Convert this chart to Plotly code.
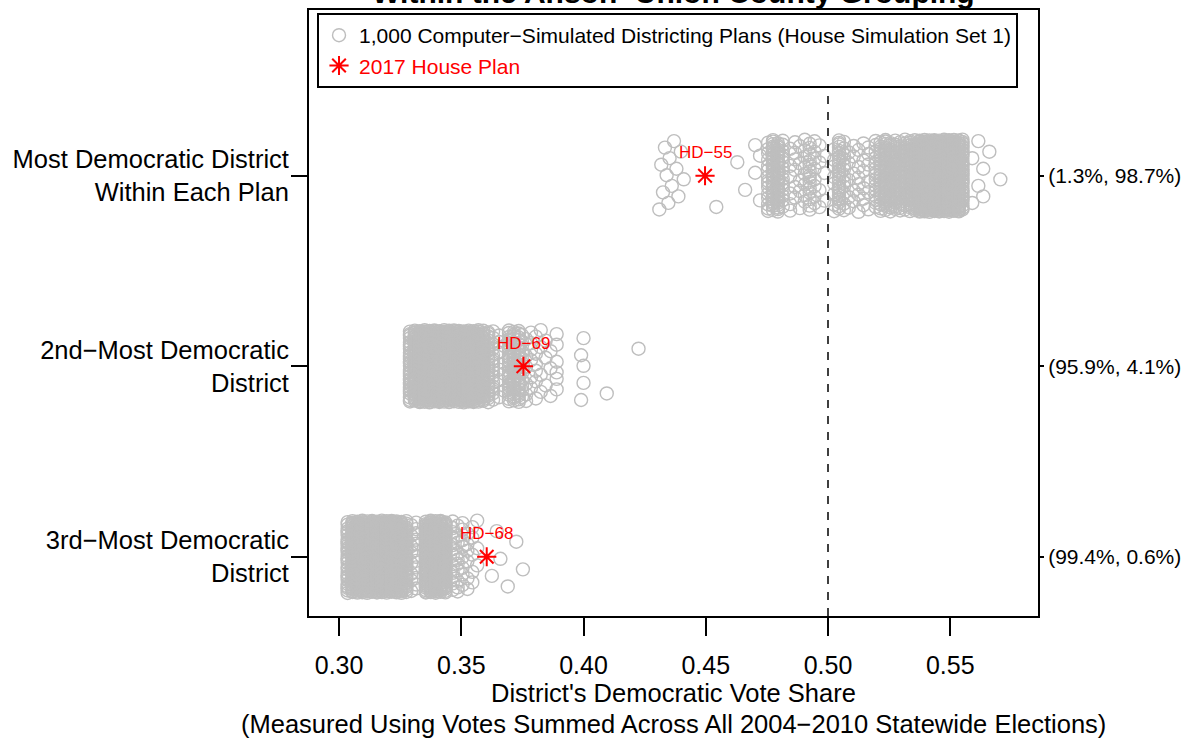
import plotly.graph_objects as go

# ---------------- data ----------------
CAT_POS = [1, 2, 3]
CAT_LABELS = ["3rd−Most Democratic<br>District",
              "2nd−Most Democratic<br>District",
              "Most Democratic District<br>Within Each Plan"]
RIGHT_LABELS = ["(99.4%, 0.6%)", "(95.9%, 4.1%)", "(1.3%, 98.7%)"]
X_TICKS = [0.30, 0.35, 0.40, 0.45, 0.50, 0.55]
X_TICK_LABELS = ["0.30", "0.35", "0.40", "0.45", "0.50", "0.55"]

# Most Democratic district: simulated vote shares (value, number of plans)
MOST_X = [0.4310, 0.4318, 0.4325, 0.4333, 0.4340, 0.4347, 0.4352, 0.4361, 0.4370,
          0.4380, 0.4388, 0.4398, 0.4410,
          0.4543, 0.4629, 0.4661, 0.4702, 0.4722,
          0.4755, 0.4775, 0.4795, 0.4815,
          0.4845, 0.4865, 0.4885, 0.4905, 0.4925, 0.4945, 0.4965, 0.4985,
          0.5025, 0.5045, 0.5065, 0.5085,
          0.5105, 0.5125, 0.5145, 0.5165,
          0.5195, 0.5215, 0.5235, 0.5255, 0.5275, 0.5295,
          0.5315, 0.5335, 0.5355,
          0.5375, 0.5395, 0.5415, 0.5435, 0.5455, 0.5475, 0.5495, 0.5515, 0.5535, 0.5550,
          0.5590, 0.5615, 0.5635, 0.5660, 0.5705]
MOST_N = [1, 1, 1, 1, 1, 1, 1, 1, 1,
          1, 1, 1, 1,
          1, 1, 1, 2, 2,
          15, 30, 30, 15,
          6, 6, 5, 8, 14, 8, 4, 3,
          8, 25, 12, 5,
          5, 6, 6, 6,
          15, 20, 25, 25, 20, 20,
          20, 25, 30,
          51, 61, 61, 61, 61, 61, 61, 56, 51, 31,
          2, 2, 2, 1, 1]

# 2nd-most Democratic district
SECOND_X = [0.329, 0.331, 0.333, 0.335, 0.337, 0.339, 0.341, 0.343, 0.345, 0.347,
            0.349, 0.351, 0.353, 0.355, 0.357, 0.359, 0.361, 0.363,
            0.3655, 0.3675, 0.3695, 0.3715, 0.3735, 0.3748,
            0.3765, 0.3785, 0.3805, 0.3825, 0.3845, 0.3865, 0.3890,
            0.3990, 0.4000, 0.4095, 0.4225]
SECOND_N = [30, 50, 55, 55, 55, 55, 55, 55, 55, 55,
            55, 55, 55, 55, 45, 35, 25, 15,
            6, 4, 25, 30, 22, 12,
            6, 6, 6, 4, 3, 3, 6,
            2, 3, 1, 1]

# 3rd-most Democratic district
THIRD_X = [0.3035, 0.3055, 0.3075, 0.3095, 0.3115, 0.3135, 0.3155, 0.3175, 0.3195,
           0.3215, 0.3235, 0.3255, 0.3275, 0.3295, 0.3315,
           0.3355, 0.3375, 0.3395, 0.3415, 0.3435,
           0.3465, 0.3485, 0.3505, 0.3525, 0.3545, 0.3565,
           0.3625, 0.3645, 0.3660, 0.3690, 0.3725, 0.3752]
THIRD_N = [28, 56, 56, 56, 56, 56, 56, 56, 56,
           56, 56, 55, 30, 8, 12,
           48, 53, 53, 53, 45,
           12, 10, 8, 6, 5, 3,
           1, 1, 1, 1, 1, 1]

# 2017 enacted House plan
PLAN_X = [0.4497, 0.3754, 0.3604]
PLAN_Y = [3, 2, 1]
PLAN_LABELS = ["HD−55", "HD−69", "HD−68"]

# ---------------- build the jittered strip ----------------
JITTER = 0.19
GOLD = 0.6180339887498949


def strip(values, counts, pos, start):
    xs, ys = [], []
    k = start
    for v, n in zip(values, counts):
        for _ in range(n):
            xs.append(v)
            ys.append(pos + ((k * GOLD) % 1.0 - 0.5) * 2 * JITTER)
            k += 1
    return xs, ys


sx, sy = [], []
for vals, cnts, pos, st in [(THIRD_X, THIRD_N, 1, 0),
                            (SECOND_X, SECOND_N, 2, 7),
                            (MOST_X, MOST_N, 3, 13)]:
    a, b = strip(vals, cnts, pos, st)
    sx += a
    sy += b

FONT = "Liberation Sans, Arial, Helvetica, sans-serif"
GRAY = "#BEBEBE"

fig = go.Figure()
fig.add_trace(go.Scatter(
    x=sx, y=sy, mode="markers",
    name="1,000 Computer−Simulated Districting Plans (House Simulation Set 1)",
    marker=dict(symbol="circle-open", size=13, color=GRAY, line=dict(width=1.4, color=GRAY)),
    hoverinfo="skip"))
fig.add_trace(go.Scatter(
    x=PLAN_X, y=PLAN_Y, mode="markers",
    name="<span style='color:#FF0000'>2017 House Plan</span>",
    marker=dict(symbol="asterisk-open", size=16, color="#FF0000",
                line=dict(width=2, color="#FF0000"))))
# invisible trace to activate the right-hand axis
fig.add_trace(go.Scatter(x=PLAN_X, y=PLAN_Y, yaxis="y2", mode="markers",
                         marker=dict(opacity=0), showlegend=False, hoverinfo="skip"))

for x, y, t in zip(PLAN_X, PLAN_Y, PLAN_LABELS):
    fig.add_annotation(x=x, y=y, xref="x", yref="y", text=t, showarrow=False,
                       yshift=23, font=dict(family=FONT, size=17, color="#FF0000"))

fig.add_shape(type="line", x0=0.5, x1=0.5, y0=0, y1=1, xref="x", yref="paper",
              line=dict(color="black", width=1.5, dash="8px,8px"), layer="above")

fig.add_annotation(text="<b>Within the Anson−Union County Grouping</b>", xref="paper", yref="paper",
                   x=0.5, y=1.0297, xanchor="center", yanchor="middle", showarrow=False,
                   font=dict(family=FONT, size=30, color="black"))
fig.add_annotation(text="District's Democratic Vote Share", xref="paper", yref="paper",
                   x=0.5, y=-0.1271, xanchor="center", yanchor="middle", showarrow=False,
                   font=dict(family=FONT, size=25.5, color="black"))
fig.add_annotation(text="(Measured Using Votes Summed Across All 2004−2010 Statewide Elections)",
                   xref="paper", yref="paper",
                   x=0.5, y=-0.1782, xanchor="center", yanchor="middle", showarrow=False,
                   font=dict(family=FONT, size=25.5, color="black"))

fig.update_layout(
    width=1190, height=745,
    margin=dict(l=309, r=152, t=10, b=129, autoexpand=False),
    paper_bgcolor="white", plot_bgcolor="white",
    font=dict(family=FONT, color="black"),
    showlegend=True,
    legend=dict(x=0.011, y=0.995, xanchor="left", yanchor="top",
                bgcolor="white", bordercolor="black", borderwidth=2,
                font=dict(family=FONT, size=21, color="black"),
                tracegroupgap=0, itemwidth=30),
    xaxis=dict(range=[0.2877, 0.5859], tickvals=X_TICKS, ticktext=X_TICK_LABELS,
               ticks="outside", ticklen=18, tickwidth=1.5, tickcolor="black",
               showline=True, linecolor="black", linewidth=2, mirror=True,
               showgrid=False, zeroline=False, ticklabelstandoff=8,
               tickfont=dict(family=FONT, size=25, color="black")),
    yaxis=dict(range=[0.689, 3.87], tickvals=CAT_POS, ticktext=CAT_LABELS,
               ticks="outside", ticklen=16, tickwidth=1.5, tickcolor="black",
               showline=True, linecolor="black", linewidth=2, mirror=True,
               showgrid=False, zeroline=False, ticklabelstandoff=-3,
               tickfont=dict(family=FONT, size=25.5, color="black")),
    yaxis2=dict(range=[0.689, 3.87], overlaying="y", side="right",
                tickvals=CAT_POS, ticktext=RIGHT_LABELS,
                ticks="outside", ticklen=5, tickwidth=1.5, tickcolor="black",
                showline=False, showgrid=False, zeroline=False,
                tickfont=dict(family=FONT, size=21, color="black")),
)

# remove the browser's default 8px page margin so the figure fills the window exactly
fig.write_html("out.html", config={"displayModeBar": False},
               post_script="document.body.style.margin='0';")
